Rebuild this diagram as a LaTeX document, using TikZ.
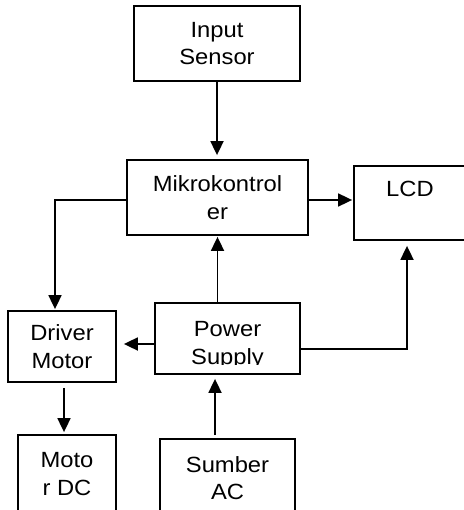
\documentclass[tikz,border=0pt]{standalone}
\usepackage{fontspec}
\setmainfont{Liberation Sans}[FakeStretch=1.08]
\usetikzlibrary{arrows.meta}

\begin{document}
\begin{tikzpicture}[x=1pt, y=-1pt,
    blk/.style={draw, line width=1.8pt, align=center, inner sep=0pt,
                font=\fontsize{22}{27.5}\selectfont},
    txt/.style={align=center, inner sep=0pt, font=\fontsize{22}{27.5}\selectfont},
    ar/.style={-{Triangle[length=14pt,width=13pt]}, line width=1.8pt},
]
\useasboundingbox (0,0) rectangle (463,510);

% === blocks ===
\node[blk, minimum width=166pt, minimum height=75pt] (inp) at (217,43.5) {Input\\Sensor};
\node[blk, minimum width=181pt, minimum height=75pt] (mk) at (217.5,197.5) {Mikrokontrol\\er};
\node[blk, minimum width=112pt, minimum height=74pt] (lcd) at (410,203) {LCD\\~};
\node[blk, minimum width=108pt, minimum height=71pt] (drv) at (62,346.5) {Driver\\Motor};
\node[blk, minimum width=145pt, minimum height=71pt] (ps) at (227.5,338.5) {};
\node[blk, minimum width=98pt, minimum height=78pt] (mot) at (67,474) {Moto\\r DC};
\node[blk, minimum width=135pt, minimum height=78pt] (ac) at (227.5,478) {Sumber\\AC};

% power supply text is cut off at the bottom of its box
\begin{scope}
  \clip (ps.north west) rectangle ([yshift=10pt]ps.south east);
  \node[txt] (pstxt) at ([yshift=-6.5pt]ps.center) {Power\\Supply};
\end{scope}

% === arrows ===
\draw[ar, shorten >=4pt] (inp.south) -- (inp.south |- mk.north);
\draw[ar, shorten >=1pt] ([yshift=-2.5pt]mk.east) -- ([yshift=-2.5pt]mk.east -| lcd.west);
\draw[ar, shorten >=1pt] ([yshift=-2.5pt]mk.west) -| ([xshift=-7pt]drv.north);
\draw[ar, shorten >=7pt] ([yshift=-5.5pt]ps.west) -- ([yshift=-5.5pt]ps.west -| drv.east);
\draw[ar, shorten >=1pt] (mk.south |- ps.north) -- (mk.south);
\draw[ar, shorten >=5pt] ([yshift=-10.5pt]ps.east) -| ([xshift=-3pt]lcd.south);
\draw[ar, shorten <=5pt, shorten >=2pt] ([xshift=2pt]drv.south) -- ([xshift=2pt]drv.south |- mot.north);
\draw[ar, shorten <=3pt, shorten >=4pt] ([xshift=-12.5pt]ac.north) -- ([xshift=-12.5pt]ac.north |- ps.south);

\end{tikzpicture}
\end{document}
